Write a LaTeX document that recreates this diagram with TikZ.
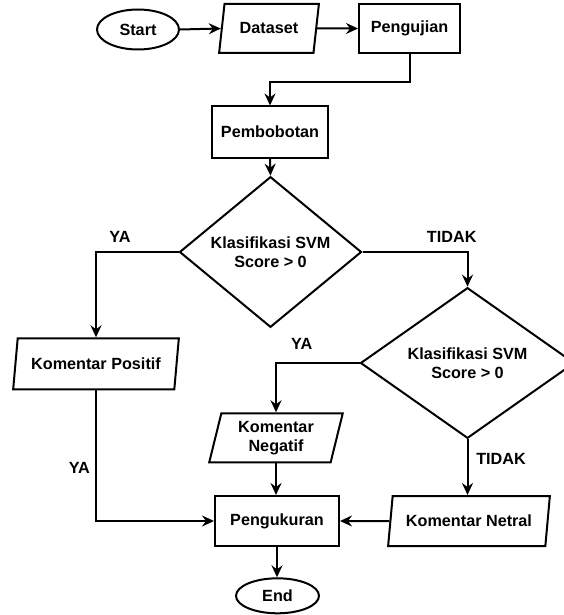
\documentclass[tikz,border=0pt]{standalone}
\usepackage{fontspec}
\setmainfont{Liberation Sans}
\usetikzlibrary{shapes.geometric,arrows.meta}
\begin{document}
\begin{tikzpicture}[x=1pt,y=-1pt,
  every node/.style={font=\fontsize{16.2}{19}\selectfont\bfseries, align=center},
  box/.style={draw, line width=2pt, rectangle, inner sep=0pt},
  term/.style={draw, line width=2pt, ellipse, inner sep=0pt},
  io/.style={draw, line width=2pt, trapezium, trapezium left angle=72.5, trapezium right angle=107.5, trapezium stretches=true, inner sep=0pt},
  dec/.style={draw, line width=2pt, diamond, inner sep=0pt},
  conn/.style={line width=2pt, -{Stealth[length=12pt,width=11pt,inset=4pt]}},
  lbl/.style={inner sep=0pt}]
\useasboundingbox (0,0) rectangle (564,615);
\node[term, minimum width=82pt, minimum height=40pt] (start) at (138,29.5) {Start};
\node[io, minimum width=100pt, minimum height=49pt] (dataset) at (269,28.5) {Dataset};
\node[box, minimum width=101pt, minimum height=49pt] (uji) at (409.5,28.5) {Pengujian};
\node[box, minimum width=116pt, minimum height=51pt] (bobot) at (270,132) {Pembobotan};
\node[dec, minimum width=182pt, minimum height=109pt] (d1) at (270.5,252) {Klasifikasi SVM\\Score > 0};
\node[io, minimum width=166pt, minimum height=51pt] (pos) at (96,363.8) {Komentar Positif};
\node[dec, minimum width=214pt, minimum height=116pt] (d2) at (467.5,363) {Klasifikasi SVM\\Score > 0};
\node[io, trapezium left angle=76, trapezium right angle=104, minimum width=134pt, minimum height=49pt] (neg) at (276,437.8) {Komentar\\Negatif};
\node[box, minimum width=124pt, minimum height=50pt] (ukur) at (277,521) {Pengukuran};
\node[io, minimum width=162pt, minimum height=50pt] (net) at (469,521) {Komentar Netral};
\node[term, minimum width=83pt, minimum height=35pt] (end) at (277.5,595.8) {End};

\node[lbl] (l1) at (120,236.7) {YA};
\node[lbl] (l2) at (451.7,236.7) {TIDAK};
\node[lbl] (l3) at (301.7,344) {YA};
\node[lbl] (l4) at (79.4,468.3) {YA};
\node[lbl] (l5) at (501,459.3) {TIDAK};

\draw[conn] (start.east) -- (dataset.west);
\draw[conn] (dataset.east) -- (uji.west);
\draw[conn] (uji.south) -- ++(0,28.5) -| (bobot.north);
\draw[conn] (bobot.south) -- (d1.north);
\draw[conn] (d1.west) -| (pos.north);
\draw[conn] (d1.east) -| (d2.north);
\draw[conn] (d2.west) -| (neg.north);
\draw[conn] (d2.south) -- (net.north -| d2.south);
\draw[conn] (pos.south) |- (ukur.west);
\draw[conn] (neg.south) -- (ukur.north -| neg.south);
\draw[conn] (net.west) -- (ukur.east);
\draw[conn] (ukur.south) -- (end.north -| ukur.south);
\end{tikzpicture}
\end{document}
